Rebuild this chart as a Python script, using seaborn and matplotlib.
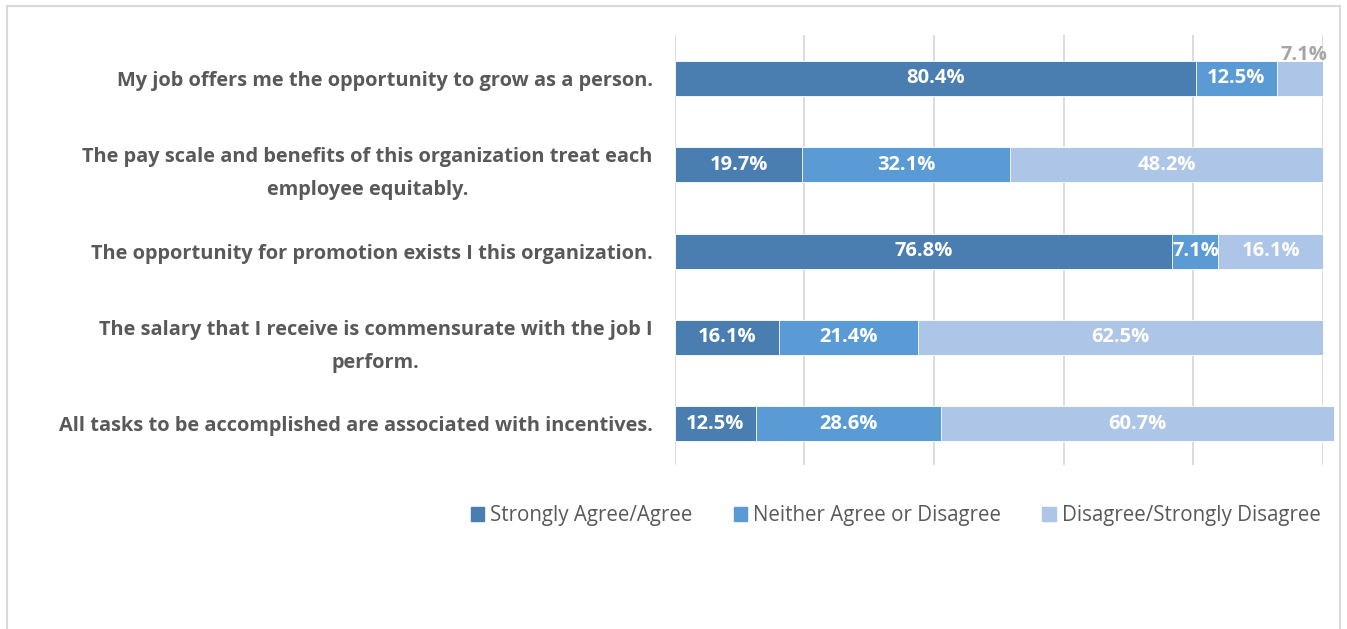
import matplotlib
matplotlib.use("Agg")
import matplotlib.pyplot as plt
import seaborn as sns
import pandas as pd
import numpy as np

# Survey statements (top to bottom) and response shares in percent
statements = [
    "My job offers me the opportunity to grow as a person.",
    "The pay scale and benefits of this organization treat each\nemployee equitably.",
    "The opportunity for promotion exists I this organization.",
    "The salary that I receive is commensurate with the job I\nperform.",
    "All tasks to be accomplished are associated with incentives.",
]
series_names = ["Strongly Agree/Agree", "Neither Agree or Disagree", "Disagree/Strongly Disagree"]
agree = [80.4, 19.7, 76.8, 16.1, 12.5]
neutral = [12.5, 32.1, 7.1, 21.4, 28.6]
disagree = [7.1, 48.2, 16.1, 62.5, 60.7]

colors = ["#4A7EB0", "#5B9BD5", "#ADC5E6"]
text_gray = "#595959"

sns.set_theme(style="white")
plt.rcParams["font.family"] = ["Open Sans", "DejaVu Sans"]

df = pd.DataFrame({"statement": statements, "agree": agree,
                   "neutral": neutral, "disagree": disagree})
df["c1"] = df["agree"]
df["c2"] = df["agree"] + df["neutral"]
df["c3"] = df["c2"] + df["disagree"]

fig = plt.figure(figsize=(13.47, 6.29), dpi=100)
ax = fig.add_axes([0.501, 0.261, 0.481, 0.683])

# stacked bars: draw cumulative totals from the outermost segment inward
for col, color in zip(["c3", "c2", "c1"], colors[::-1]):
    sns.barplot(data=df, x=col, y="statement", orient="h", color=color,
                width=0.405, saturation=1, edgecolor="white", linewidth=0.6,
                ax=ax, zorder=2)
for p in ax.patches:
    p.set_clip_on(False)

ax.set_xlim(0, 100)
ax.set_ylim(4.474, -0.497)
ax.set_xticks([0, 20, 40, 60, 80, 100])
ax.set_xticklabels([])
ax.grid(axis="x", color="#D9D9D9", linewidth=1.3, zorder=0)
ax.tick_params(axis="both", length=0)
for s in ax.spines.values():
    s.set_visible(False)
ax.set_xlabel("")
ax.set_ylabel("")
ax.set_yticks(range(len(statements)))
ax.set_yticklabels(statements, fontsize=14.4, fontweight="bold", color=text_gray,
                   linespacing=1.85, multialignment="center")
ax.tick_params(axis="y", pad=16)

# value labels centred on each segment
for i in range(len(statements)):
    starts = [0, df["c1"][i], df["c2"][i]]
    vals = [agree[i], neutral[i], disagree[i]]
    for s, v in zip(starts, vals):
        if s + v >= 99.9 and v < 8:
            # too narrow at the right end: place above the bar
            ax.text(s + v / 2 + 0.6, i - 0.27, f"{v:.1f}%", ha="center", va="center",
                    fontsize=14.5, fontweight="bold", color="#A6A6A6", zorder=3)
            continue
        ax.text(s + v / 2, i, f"{v:.1f}%", ha="center", va="center",
                fontsize=14.5, fontweight="bold", color="white", zorder=3)

# legend along the bottom
handles = [plt.Rectangle((0, 0), 1, 1, color=c) for c in colors]
fig.legend(handles, series_names, loc="center", bbox_to_anchor=(0.665, 0.18),
           ncol=3, frameon=False, fontsize=14.8, handlelength=0.65, handleheight=0.65,
           handletextpad=0.3, columnspacing=2.0, labelcolor=text_gray)

# light frame around the chart
fig.patches.append(plt.Rectangle((0.0055, -0.02), 0.9895, 1.01, transform=fig.transFigure,
                                 fill=False, edgecolor="#D9D9D9", linewidth=1.5))

fig.savefig("out.png", dpi=100, facecolor="white")
